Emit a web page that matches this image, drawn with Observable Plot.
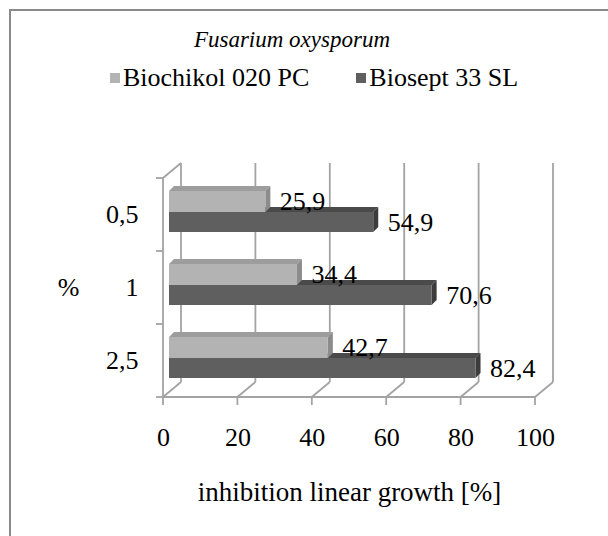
<!DOCTYPE html>
<html>
<head>
<meta charset="utf-8">
<script src="https://cdn.jsdelivr.net/npm/d3@7"></script>
<script src="https://cdn.jsdelivr.net/npm/@observablehq/plot@0.6"></script>
<style>
  body { margin: 0; background: #fff; }
  #wrap { position: relative; width: 608px; height: 536px; overflow: hidden;
          font-family: "Liberation Serif", "DejaVu Serif", serif; color: #000; }
  #border { position: absolute; left: 9px; top: 9px; width: 800px; height: 800px;
            border-left: 2px solid #8a8a8a; border-top: 2px solid #8a8a8a; }
  #chart { position: absolute; left: 0; top: 0; }
  #title { position: absolute; left: 0; width: 584px; top: 25px; text-align: center;
           font-style: italic; font-size: 23px; line-height: 30px; }
  #legend { position: absolute; left: 110px; top: 62px; font-size: 26px; line-height: 32px;
            display: flex; gap: 47px; white-space: nowrap; }
  #legend .item { display: flex; align-items: center; }
  #legend .sw { width: 10px; height: 10px; margin-right: 3px; display: inline-block; }
</style>
</head>
<body>
<div id="wrap">
  <div id="border"></div>
  <div id="chart"></div>
  <div id="title"></div>
  <div id="legend"></div>
</div>
<script>
// ---- data ----
const categories = ["0,5", "1", "2,5"];
const seriesNames = ["Biochikol 020 PC", "Biosept 33 SL"];
const biochikol = [25.9, 34.4, 42.7];
const biosept = [54.9, 70.6, 82.4];
const xTicks = [0, 20, 40, 60, 80, 100];
const titleText = "Fusarium oxysporum";
const xLabel = "inhibition linear growth [%]";
const yLabel = "%";

// ---- styles ----
const FONT = '"Liberation Serif", "DejaVu Serif", serif';
const FS = 26;
const GRID = "#a3a3a3";
const DX = 18, DY = 15;       // depth of the 3D walls
const BD = 5;                 // depth of bars
const SHIFT = 6;              // bar offset from wall
const colors = {
  "Biochikol 020 PC": {front: "#b3b3b3", top: "#9d9d9d", side: "#8c8c8c", insetTop: 13, insetBottom: 39, dy: -13},
  "Biosept 33 SL": {front: "#5f5f5f", top: "#4a4a4a", side: "#3c3c3c", insetTop: 34, insetBottom: 19, dy: 7.5}
};

const rows = (name, vals) => categories.map((c, i) => ({cat: c, value: vals[i], series: name}));
const lightData = rows(seriesNames[0], biochikol);
const darkData = rows(seriesNames[1], biosept);

const fmt = v => String(v).replace(".", ",");

// 3D frame: back wall, floor diagonals, axes lines and ticks
function frame3d(index, scales, values, dims) {
  const {x, y} = scales;
  const yTop = dims.marginTop, yBot = dims.height - dims.marginBottom;
  const x0 = x(xTicks[0]), x1 = x(xTicks[xTicks.length - 1]);
  const g = d3.create("svg:g").attr("stroke", GRID).attr("stroke-width", 1.8).attr("fill", "none");
  const line = (a, b, c, d) => g.append("line").attr("x1", a).attr("y1", b).attr("x2", c).attr("y2", d);
  for (const v of xTicks) {
    const xv = x(v);
    line(xv + DX, yTop - DY, xv + DX, yBot - DY);
    line(xv, yBot, xv + DX, yBot - DY);
    line(xv, yBot, xv, yBot + 8);
  }
  line(x0, yBot, x1, yBot);
  line(x0, yTop, x0, yBot);
  line(x0, yTop, x0 + DX, yTop - DY);
  const bw = y.bandwidth ? y.bandwidth() : (yBot - yTop) / categories.length;
  const bounds = categories.map(c => y(c)).concat([y(categories[categories.length - 1]) + bw]);
  for (const yy of bounds) line(x0 - 7, yy, x0, yy);
  return g.node();
}

// top and side faces of bars
function faces(data) {
  return function (index, scales) {
    const {x, y} = scales;
    const g = d3.create("svg:g");
    for (const d of data) {
      const st = colors[d.series];
      const bw = y.bandwidth();
      const xa = x(0) + SHIFT, xb = x(d.value) + SHIFT;
      const yt = y(d.cat) + st.insetTop, yb = y(d.cat) + bw - st.insetBottom;
      g.append("polygon").attr("fill", st.top)
        .attr("points", [[xa, yt], [xb, yt], [xb + BD, yt - BD], [xa + BD, yt - BD]].join(" "));
      g.append("polygon").attr("fill", st.side)
        .attr("points", [[xb, yt], [xb, yb], [xb + BD, yb - BD], [xb + BD, yt - BD]].join(" "));
    }
    return g.node();
  };
}

function barSet(data) {
  const st = colors[data[0].series];
  return [
    faces(data),
    Plot.barX(data, {x: "value", y: "cat", fill: st.front, insetTop: st.insetTop, insetBottom: st.insetBottom, dx: SHIFT})
  ];
}

function labelSet(data) {
  const st = colors[data[0].series];
  return Plot.text(data, {x: "value", y: "cat", text: d => fmt(d.value), textAnchor: "start",
    lineAnchor: "middle", dx: 20, dy: st.dy, fontSize: FS, fill: "#000"});
}

const chart = Plot.plot({
  width: 608,
  height: 536,
  marginLeft: 163,
  marginRight: 73,
  marginTop: 178,
  marginBottom: 139,
  style: {fontFamily: FONT, background: "transparent", color: "#000"},
  x: {domain: [xTicks[0], xTicks[xTicks.length - 1]], axis: null},
  y: {domain: categories, padding: 0, axis: null},
  marks: [
    frame3d,
    ...barSet(darkData),
    ...barSet(lightData),
    labelSet(lightData),
    labelSet(darkData),
    Plot.axisX(xTicks, {tickSize: 0, tickPadding: 30, fontSize: FS, label: null, tickFormat: d => String(d)}),
    Plot.axisY({tickSize: 0, tickPadding: 25, fontSize: FS, label: null}),
    Plot.text([yLabel], {frameAnchor: "left", text: d => d, dx: -95, fontSize: FS, textAnchor: "middle"}),
    Plot.text([xLabel], {frameAnchor: "bottom", text: d => d, dy: 95, fontSize: 27, lineAnchor: "middle"})
  ]
});
document.getElementById("chart").appendChild(chart);

document.getElementById("title").textContent = titleText;
const legend = document.getElementById("legend");
for (const name of seriesNames) {
  const item = document.createElement("span");
  item.className = "item";
  const sw = document.createElement("span");
  sw.className = "sw";
  sw.style.background = colors[name].front;
  item.appendChild(sw);
  item.appendChild(document.createTextNode(name));
  legend.appendChild(item);
}
</script>
</body>
</html>
